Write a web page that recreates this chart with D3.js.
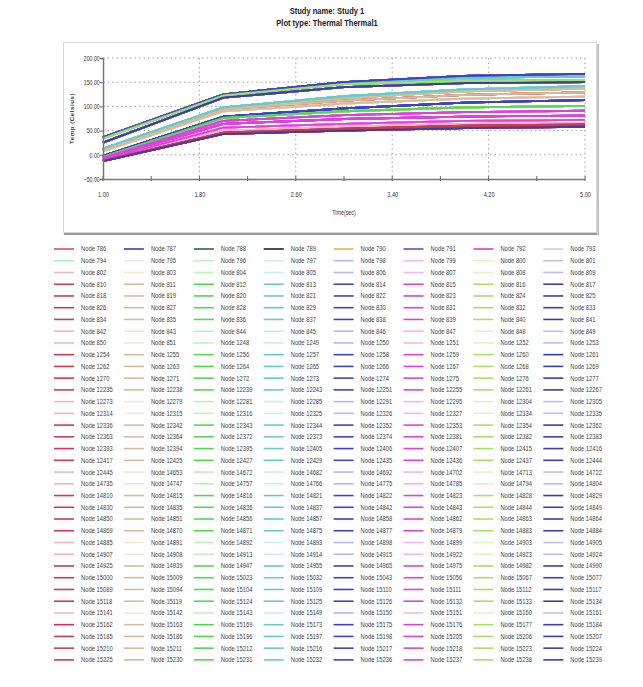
<!DOCTYPE html>
<html><head><meta charset="utf-8">
<script src="https://cdn.jsdelivr.net/npm/d3@7"></script>
<style>
html,body{margin:0;padding:0;background:#fff;}
svg{display:block;}
text{font-family:"Liberation Sans",Arial,sans-serif;fill:#333;}
</style></head>
<body>
<svg id="chart" width="643" height="687"></svg>
<script>
// ---------------- DATA ----------------
const titleLines = ["Study name: Study 1", "Plot type: Thermal Thermal1"];
const yTitle = "Temp (Celsius)";
const xTitle = "Time(sec)";
const times = [1, 2, 3, 4, 5];
const xTicks = [1.0, 1.8, 2.6, 3.4, 4.2, 5.0];
const yTicks = [-50, 0, 50, 100, 150, 200];

// legend node ids, 36 rows x 8 columns
const nodeRows = [
  [786,787,788,789,790,791,792,793],
  [794,795,796,797,798,799,800,801],
  [802,803,804,805,806,807,808,809],
  [810,811,812,813,814,815,816,817],
  [818,819,820,821,822,823,824,825],
  [826,827,828,829,830,831,832,833],
  [834,835,836,837,838,839,840,841],
  [842,843,844,845,846,847,848,849],
  [850,851,1248,1249,1250,1251,1252,1253],
  [1254,1255,1256,1257,1258,1259,1260,1261],
  [1262,1263,1264,1265,1266,1267,1268,1269],
  [1270,1271,1272,1273,1274,1275,1276,1277],
  [12235,12238,12239,12243,12251,12255,12261,12267],
  [12273,12279,12281,12285,12291,12295,12304,12305],
  [12314,12315,12316,12325,12326,12327,12334,12335],
  [12336,12342,12343,12344,12352,12353,12354,12362],
  [12363,12364,12372,12373,12374,12381,12382,12383],
  [12393,12394,12395,12405,12406,12407,12415,12416],
  [12417,12425,12427,12429,12435,12436,12437,12444],
  [12445,14653,14672,14682,14692,14702,14713,14722],
  [14735,14747,14757,14766,14775,14785,14794,14804],
  [14810,14815,14816,14821,14822,14823,14828,14829],
  [14830,14835,14836,14837,14842,14843,14844,14849],
  [14850,14851,14856,14857,14858,14862,14863,14864],
  [14869,14870,14871,14875,14877,14879,14883,14884],
  [14885,14891,14892,14893,14898,14899,14903,14905],
  [14907,14908,14913,14914,14915,14922,14923,14924],
  [14925,14939,14947,14955,14965,14975,14982,14990],
  [15000,15009,15023,15032,15043,15056,15067,15077],
  [15089,15094,15104,15109,15110,15111,15112,15117],
  [15118,15119,15124,15125,15126,15132,15133,15134],
  [15141,15142,15143,15149,15150,15151,15160,15161],
  [15162,15163,15169,15173,15175,15176,15177,15184],
  [15185,15186,15196,15197,15198,15205,15206,15207],
  [15210,15211,15212,15216,15217,15218,15223,15224],
  [15225,15230,15231,15232,15236,15237,15238,15239]
];

// temperature histories (values at times 1..5)
const profiles = [
  [36, 125, 150, 163, 167],
  [35, 124, 148, 159, 162],
  [34, 123, 146, 153, 155],
  [25, 118, 140, 148, 150],
  [13, 98, 121, 135, 142],
  [11, 96, 117, 131, 137],
  [9, 94, 112, 124, 129],
  [7, 90, 106, 116, 120],
  [-2, 79, 96, 108, 113],
  [-4, 76, 90, 98, 101],
  [-6, 70, 82, 88, 91],
  [-8, 64, 74, 79, 81],
  [-10, 56, 64, 70, 72],
  [-12, 46, 54, 60, 63],
  [-13, 43, 50, 55, 58],
  [-11, 50, 58, 64, 66]
];

// which history each node follows (same 36 x 8 layout as nodeRows)
const profileIndex = [
  [13,3,5,0,4,12,11,1],
  [9,7,2,4,8,11,9,0],
  [14,6,2,1,8,10,9,3],
  [6,5,9,4,0,11,2,13],
  [13,7,2,1,8,12,9,0],
  [14,6,9,4,3,10,2,13],
  [6,5,2,1,8,11,9,0],
  [15,7,9,4,0,12,2,3],
  [13,6,2,1,8,10,9,14],
  [14,5,9,4,3,11,2,0],
  [6,7,2,1,8,12,9,13],
  [13,6,9,4,0,10,2,3],
  [15,5,2,1,8,11,9,0],
  [14,7,9,4,3,12,2,13],
  [6,6,2,1,8,10,9,0],
  [13,5,9,4,0,11,2,3],
  [14,7,2,1,8,12,9,13],
  [6,6,9,4,3,10,2,0],
  [13,5,2,1,8,11,9,14],
  [15,7,9,4,0,12,2,3],
  [14,6,2,1,8,10,9,0],
  [6,5,9,4,3,11,2,13],
  [13,7,2,1,8,12,9,0],
  [14,6,9,4,0,10,2,3],
  [6,5,2,1,8,11,9,14],
  [15,7,9,4,3,12,2,0],
  [13,6,2,1,8,10,9,3],
  [14,5,9,4,0,11,2,13],
  [6,7,2,1,8,12,9,0],
  [13,6,9,4,3,10,2,14],
  [14,5,2,1,8,11,9,0],
  [15,7,9,4,0,12,2,3],
  [6,6,2,1,8,10,9,13],
  [13,5,9,4,3,11,2,0],
  [14,7,2,1,8,12,9,3],
  [13,6,9,4,0,10,2,14]
];

// ---------------- STYLES ----------------
const firstRowColors = ["#e0505a","#3c3cc8","#2e6e2e","#202020","#f0b040","#8040c0","#e040c0","#c8d4d4"];
const darkColors  = ["#d43a4c","#d6bc9c","#4cdc4c","#62cccc","#4040c8","#e040e0","#a8e060","#3c3cac"];
const lightColors = ["#f4b4c0","#f0e6da","#bdf2bd","#c6f0f0","#b6b6f0","#f4b4f4","#e2f4c4","#bebee8"];
const lightRows = [1,2,7,8,13,14,19,20,25,26,31];
const specialColors = {"1-0": "#a8f0b8"};

function colorFor(r, c) {
  if (specialColors[r + "-" + c]) return specialColors[r + "-" + c];
  if (r === 0) return firstRowColors[c];
  return lightRows.includes(r) ? lightColors[c] : darkColors[c];
}

// ---------------- BUILD ----------------
const series = [];
nodeRows.forEach((row, r) => row.forEach((id, c) => {
  series.push({
    name: "Node " + id, row: r, col: c, color: colorFor(r, c),
    values: profiles[profileIndex[r][c]].map((v, i) => ({t: times[i], v}))
  });
}));

const svg = d3.select("#chart");

// condensed text helper
function ctext(sel, x, y, sx) {
  return sel.attr("x", 0).attr("y", 0).attr("transform", `translate(${x},${y}) scale(${sx},1)`);
}

// frame
svg.append("rect").attr("x", 63.5).attr("y", 42.5).attr("width", 533).attr("height", 190)
  .attr("fill", "#fff").attr("stroke", "#d8d8d8");
svg.append("line").attr("x1", 64).attr("x2", 598).attr("y1", 234).attr("y2", 234)
  .attr("stroke", "#9a9a9a").attr("stroke-width", 2);
svg.append("line").attr("x1", 598).attr("x2", 598).attr("y1", 44).attr("y2", 235)
  .attr("stroke", "#c4c4c4").attr("stroke-width", 2);

// titles
titleLines.forEach((t, i) => {
  ctext(svg.append("text"), 327, 14 + i * 12, 0.84).attr("text-anchor", "middle")
    .style("font-size", "9px").style("font-weight", "bold").style("fill", "#222").text(t);
});

const x = d3.scaleLinear().domain([1, 5]).range([103, 585]);
const y = d3.scaleLinear().domain([-50, 200]).range([179, 58]);

// grid
const g = svg.append("g");
g.selectAll("line.hg").data(yTicks.filter(d => d > -50)).join("line")
  .attr("x1", x(1)).attr("x2", x(5)).attr("y1", d => y(d)).attr("y2", d => y(d))
  .attr("stroke", "#8c8c8c").attr("stroke-width", 0.8).attr("stroke-dasharray", "1.5,3");
g.selectAll("line.vg").data(xTicks.filter(d => d > 1)).join("line")
  .attr("x1", d => x(d)).attr("x2", d => x(d)).attr("y1", y(200)).attr("y2", y(-50))
  .attr("stroke", "#8c8c8c").attr("stroke-width", 0.8).attr("stroke-dasharray", "1.5,3");

// series lines
const line = d3.line().x(d => x(d.t)).y(d => y(d.v));
g.selectAll("path.s").data(series).join("path").attr("class", "s")
  .attr("d", d => line(d.values)).attr("fill", "none")
  .attr("stroke", d => d.color).attr("stroke-width", 1.8);

// axes
const xAxis = svg.append("g").attr("transform", `translate(0,${y(-50)})`)
  .call(d3.axisBottom(x).tickValues(xTicks).tickFormat(d3.format(".2f")).tickSize(0).tickPadding(13));
xAxis.select(".domain").attr("stroke", "#777").attr("stroke-width", 1.5);
xAxis.selectAll("text").style("font-size", "7px").style("fill", "#333")
  .attr("transform", "scale(0.8,1)");
const minorX = d3.range(1, 5.0001, 0.4);
svg.selectAll("line.mx").data(minorX).join("line")
  .attr("x1", d => x(d)).attr("x2", d => x(d)).attr("y1", y(-50) - 3).attr("y2", y(-50) + 2)
  .attr("stroke", "#666").attr("stroke-width", 1);

const yAxis = svg.append("g").attr("transform", `translate(${x(1)},0)`)
  .call(d3.axisLeft(y).tickValues(yTicks).tickFormat(d3.format(".2f")).tickSize(3).tickPadding(1.5));
yAxis.select(".domain").attr("stroke", "#777").attr("stroke-width", 1.5);
yAxis.selectAll(".tick line").attr("stroke", "#666");
yAxis.selectAll("text").style("font-size", "7px").style("fill", "#333")
  .attr("transform", "scale(0.74,1)");

svg.append("text").attr("transform", `translate(74,${(y(200) + y(-50)) / 2}) rotate(-90)`)
  .attr("text-anchor", "middle").style("font-size", "6px").style("font-weight", "bold")
  .style("letter-spacing", "0.6px").text(yTitle);
ctext(svg.append("text"), (x(1) + x(5)) / 2, 215, 0.82).attr("text-anchor", "middle")
  .style("font-size", "6.5px").text(xTitle);

// legend
const colW = 69.9, rowH = 11.74, lx0 = 54, ly0 = 249;
const lg = svg.append("g").selectAll("g").data(series).join("g")
  .attr("transform", d => `translate(${lx0 + d.col * colW},${ly0 + d.row * rowH})`);
lg.append("line").attr("x1", 0).attr("x2", 20).attr("y1", 0).attr("y2", 0)
  .attr("stroke", d => d.color).attr("stroke-width", 1.6);
lg.append("text").attr("dy", "0.35em").attr("transform", "translate(27,0) scale(0.83,1)")
  .style("font-size", "7px").style("fill", "#444").text(d => d.name);
</script>
</body></html>
